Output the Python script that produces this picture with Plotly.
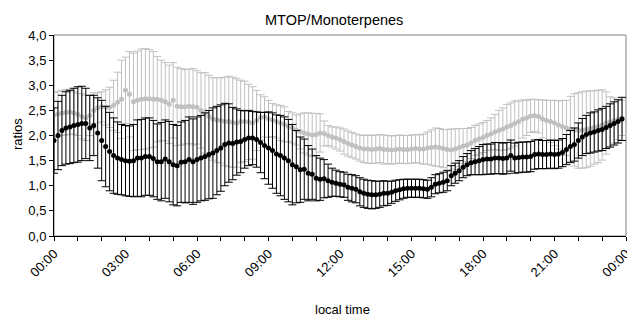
import numpy as np
import plotly.graph_objects as go

tick_labels = ["00:00", "03:00", "06:00", "09:00", "12:00", "15:00", "18:00", "21:00", "00:00"]

# 10-minute values, 00:00 .. 23:50
black_mean = [
    1.90, 2.00, 2.10, 2.15, 2.17, 2.20,
    2.22, 2.24, 2.24, 2.15, 2.20, 2.05,
    1.90, 1.78, 1.68, 1.60, 1.55, 1.52,
    1.50, 1.49, 1.50, 1.55, 1.55, 1.58,
    1.58, 1.54, 1.48, 1.48, 1.53, 1.48,
    1.42, 1.40, 1.47, 1.48, 1.52, 1.48,
    1.52, 1.55, 1.58, 1.62, 1.65, 1.70,
    1.75, 1.82, 1.85, 1.84, 1.87, 1.88,
    1.92, 1.95, 1.95, 1.92, 1.86, 1.80,
    1.75, 1.70, 1.63, 1.60, 1.55, 1.50,
    1.42, 1.38, 1.32, 1.33, 1.25, 1.23,
    1.15, 1.13, 1.14, 1.10, 1.07, 1.05,
    1.03, 1.02, 0.97, 0.95, 0.93, 0.88,
    0.85, 0.83, 0.82, 0.82, 0.83, 0.85,
    0.85, 0.87, 0.90, 0.92, 0.94, 0.95,
    0.95, 0.95, 0.95, 0.94, 0.93, 0.97,
    1.03, 1.05, 1.07, 1.10, 1.20, 1.25,
    1.30, 1.37, 1.42, 1.46, 1.48, 1.50,
    1.52, 1.53, 1.53, 1.55, 1.55, 1.54,
    1.55, 1.60, 1.55, 1.56, 1.57, 1.57,
    1.58, 1.62, 1.63, 1.62, 1.62, 1.63,
    1.62, 1.63, 1.66, 1.72, 1.78, 1.82,
    1.90, 1.97, 2.02, 2.05, 2.07, 2.10,
    2.12, 2.16, 2.20, 2.24, 2.28, 2.33,
]
black_err = [
    0.65, 0.68, 0.70, 0.72, 0.73, 0.74,
    0.75, 0.74, 0.70, 0.65, 0.60, 0.70,
    0.80, 0.80, 0.78, 0.75, 0.72, 0.70,
    0.70, 0.70, 0.72, 0.76, 0.77, 0.77,
    0.77, 0.76, 0.75, 0.78, 0.78, 0.80,
    0.80, 0.80, 0.80, 0.82, 0.85, 0.85,
    0.85, 0.85, 0.87, 0.88, 0.90, 0.88,
    0.86, 0.82, 0.78, 0.72, 0.66, 0.62,
    0.57, 0.55, 0.53, 0.55, 0.60, 0.66,
    0.72, 0.75, 0.78, 0.80, 0.82, 0.82,
    0.80, 0.72, 0.65, 0.60, 0.55, 0.50,
    0.45, 0.42, 0.38, 0.33, 0.28, 0.26,
    0.25, 0.25, 0.26, 0.27, 0.27, 0.28,
    0.28, 0.28, 0.28, 0.27, 0.26, 0.25,
    0.24, 0.22, 0.21, 0.20, 0.19, 0.18,
    0.18, 0.18, 0.18, 0.18, 0.18, 0.19,
    0.19, 0.19, 0.20, 0.20, 0.20, 0.20,
    0.20, 0.21, 0.22, 0.24, 0.26, 0.28,
    0.30, 0.30, 0.30, 0.31, 0.31, 0.31,
    0.31, 0.31, 0.30, 0.30, 0.30, 0.30,
    0.30, 0.29, 0.29, 0.28, 0.28, 0.28,
    0.28, 0.28, 0.28, 0.30, 0.32, 0.33,
    0.35, 0.37, 0.38, 0.40, 0.40, 0.41,
    0.42, 0.42, 0.43, 0.43, 0.43, 0.43,
]
gray_mean = [
    2.41, 2.43, 2.45, 2.46, 2.47, 2.45,
    2.42, 2.38, 2.35, 2.40, 2.50, 2.55,
    2.57, 2.56, 2.56, 2.60, 2.66, 2.72,
    2.90, 2.82, 2.67, 2.70, 2.72, 2.73,
    2.73, 2.72, 2.72, 2.70, 2.67, 2.62,
    2.70, 2.58, 2.57, 2.57, 2.58, 2.57,
    2.56, 2.50, 2.45, 2.38, 2.33, 2.31,
    2.30, 2.28, 2.28, 2.26, 2.25, 2.28,
    2.28, 2.27, 2.25, 2.30, 2.36, 2.37,
    2.33, 2.31, 2.28, 2.25, 2.22, 2.18,
    2.15, 2.11, 2.08, 2.05, 2.03, 2.01,
    2.02, 2.05, 2.04, 2.00, 1.97, 1.95,
    1.92, 1.88, 1.84, 1.81, 1.78, 1.75,
    1.73, 1.73, 1.72, 1.73, 1.74, 1.72,
    1.72, 1.71, 1.72, 1.73, 1.72, 1.72,
    1.73, 1.74, 1.73, 1.73, 1.75, 1.76,
    1.77, 1.76, 1.74, 1.72, 1.71, 1.73,
    1.76, 1.79, 1.81, 1.85, 1.90, 1.93,
    1.96, 2.00, 2.03, 2.07, 2.10, 2.13,
    2.17, 2.20, 2.24, 2.28, 2.33, 2.35,
    2.39, 2.40, 2.38, 2.33, 2.30, 2.28,
    2.25, 2.21, 2.18, 2.15, 2.13, 2.11,
    2.10, 2.11, 2.12, 2.14, 2.16, 2.18,
    2.21, 2.25, 2.27, 2.30, 2.32, 2.35,
]
gray_err = [
    0.45, 0.45, 0.45, 0.45, 0.45, 0.42,
    0.42, 0.45, 0.45, 0.40, 0.35, 0.30,
    0.30, 0.35, 0.40, 0.50, 0.60, 0.78,
    0.66, 0.85, 0.97, 0.98, 1.00, 1.00,
    0.98, 0.95, 0.85, 0.80, 0.78, 0.78,
    0.75, 0.78, 0.76, 0.74, 0.74, 0.76,
    0.73, 0.75, 0.80, 0.82, 0.82, 0.84,
    0.85, 0.88, 0.90, 0.90, 0.88, 0.82,
    0.80, 0.75, 0.72, 0.60, 0.45, 0.40,
    0.37, 0.33, 0.33, 0.35, 0.35, 0.30,
    0.30, 0.30, 0.35, 0.40, 0.42, 0.43,
    0.42, 0.38, 0.25, 0.20, 0.20, 0.22,
    0.23, 0.25, 0.25, 0.25, 0.25, 0.26,
    0.27, 0.28, 0.28, 0.28, 0.28, 0.29,
    0.28, 0.28, 0.28, 0.28, 0.28, 0.28,
    0.28, 0.28, 0.28, 0.30, 0.32, 0.35,
    0.38, 0.38, 0.38, 0.40, 0.42, 0.40,
    0.38, 0.35, 0.33, 0.31, 0.30, 0.30,
    0.30, 0.30, 0.32, 0.35, 0.40, 0.42,
    0.45, 0.45, 0.45, 0.40, 0.38, 0.35,
    0.33, 0.32, 0.33, 0.38, 0.40, 0.42,
    0.45, 0.48, 0.52, 0.55, 0.65, 0.72,
    0.75, 0.76, 0.76, 0.75, 0.73, 0.72,
    0.70, 0.62, 0.50, 0.45, 0.40, 0.35,
]

hours = np.arange(len(black_mean)) / 6.0
GRAY = "#C0C0C0"
FONT = "Liberation Sans, Arial, sans-serif"

fig = go.Figure()
fig.add_trace(go.Scatter(
    x=hours, y=gray_mean, mode="markers",
    marker=dict(color=GRAY, size=5, symbol="circle"),
    error_y=dict(type="data", array=gray_err, visible=True, color=GRAY, thickness=1, width=4),
    showlegend=False,
))
fig.add_trace(go.Scatter(
    x=hours, y=black_mean, mode="markers",
    marker=dict(color="#000000", size=5, symbol="circle"),
    error_y=dict(type="data", array=black_err, visible=True, color="#000000", thickness=1, width=4),
    showlegend=False,
))

fig.update_layout(
    width=627, height=317,
    margin=dict(l=54, r=1, t=35, b=81),
    paper_bgcolor="white", plot_bgcolor="white",
    separators=",.",
    font=dict(family=FONT, size=13, color="black"),
    shapes=[dict(type="rect", xref="paper", yref="paper", x0=0, y0=0, x1=1, y1=1,
                 line=dict(color="#808080", width=1), layer="below")],
    annotations=[
        dict(text="MTOP/Monoterpenes", xref="paper", yref="paper",
             x=(334 - 54) / 572, y=(236 - 20) / 201, showarrow=False,
             xanchor="center", yanchor="middle", font=dict(size=14.5)),
        dict(text="ratios", xref="paper", yref="paper",
             x=(17 - 54) / 572, y=(236 - 134) / 201, showarrow=False,
             textangle=-90, xanchor="center", yanchor="middle", font=dict(size=13)),
        dict(text="local time", xref="paper", yref="paper",
             x=(342 - 54) / 572, y=(236 - 309) / 201, showarrow=False,
             xanchor="center", yanchor="middle", font=dict(size=13)),
    ],
)
fig.update_xaxes(
    range=[0, 24], tickmode="array", tickvals=list(range(0, 25, 3)), ticktext=tick_labels,
    tickangle=-45, ticks="outside", ticklen=4, tickcolor="black",
    minor=dict(tickmode="array", tickvals=list(range(0, 25)), ticks="outside", ticklen=4, tickcolor="black"),
    showgrid=False, zeroline=False, showline=True, linecolor="black", linewidth=1,
    tickfont=dict(size=13), automargin=False, ticklabeloverflow="allow",
)
fig.update_yaxes(
    range=[0, 4], dtick=0.5, tick0=0, tickformat=".1f",
    ticks="outside", ticklen=4, tickcolor="black",
    showgrid=False, zeroline=False, showline=True, linecolor="black", linewidth=1,
    tickfont=dict(size=13), automargin=False,
)

fig.write_html(
    "out.html",
    config={"displayModeBar": False},
    post_script="document.body.style.margin='0';document.body.style.overflow='hidden';",
)
